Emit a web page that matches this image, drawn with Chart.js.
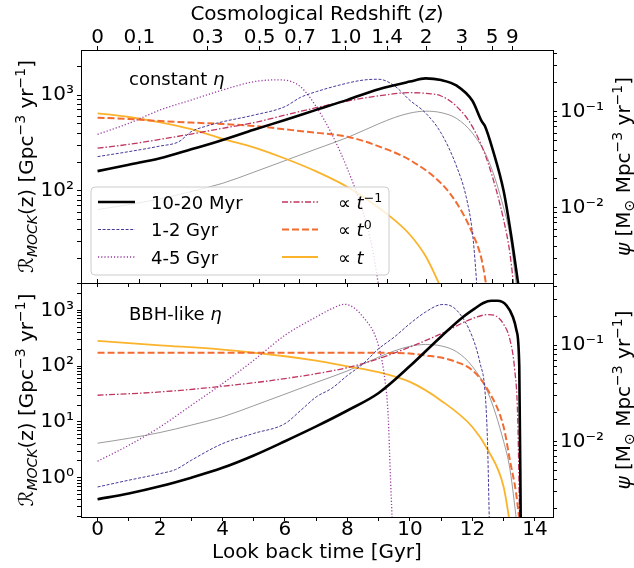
<!DOCTYPE html>
<html><head><meta charset="utf-8">
<script src="https://cdn.jsdelivr.net/npm/chart.js@4/dist/chart.umd.min.js"></script>
<style>
html,body{margin:0;padding:0;background:#fff;}
#wrap{position:relative;width:634px;height:568px;background:#fff;}
canvas{position:absolute;left:0;top:0;}
</style></head><body>
<div id="wrap"><canvas id="c1" width="634" height="568"></canvas><canvas id="c2" width="634" height="568"></canvas></div>
<script>
// ---------- DATA ----------
const xTickValues = [0,1,2,3,4,5,6,7,8,9,10,11,12,13,14];
const zLabels   = ['0','0.1','0.3','0.5','0.7','1.0','1.4','2','3','5','9'];
const zLookback = [0,1.34,3.53,5.19,6.48,7.94,9.27,10.52,11.66,12.63,13.28];

// star formation rate density psi (right axis), same in both panels
const tPsi = [0,1,2,3,4,5,6,7,8,9,9.5,10,10.5,11,11.5,12,12.5,13,13.2,13.45];
const vPsi = [0.0096,0.0108,0.0124,0.0148,0.018,0.0235,0.031,0.041,0.054,0.075,0.087,0.097,0.1015,0.098,0.085,0.060,0.032,0.0100,0.0052,0.0012];

// top panel: constant eta
const tBlackA = [0,1,2,3,4,5,6,7,8,9,10,10.5,11,11.5,12,12.3,12.4,12.65,13,13.25,13.5];
const vBlackA = [161,188,219,272,340,435,549,700,890,1150,1380,1490,1430,1250,870,530,476,270,100,33,9];
const tG12A = [0,1,2,2.6,3,3.5,4,5,6,6.5,7,8,8.5,9,9.5,10,10.5,11,11.5,11.8,12,12.1,12.2];
const vG12A = [228,257,294,326,415,476,526,617,757,946,1083,1330,1430,1460,1250,880,650,400,178,87,37,16,5];
const tG45A = [0,1,2,3,4,5,5.5,5.8,6.2,6.5,7,7.5,8,8.5,8.8,9.05];
const vG45A = [389,507,698,887,1127,1376,1433,1440,1380,1220,757,390,170,60,25,8];
const tM1A = [0,1,2,3,4,5,6,7,8,9,10,10.5,11,11.5,12,12.5,13,13.2,13.4];
const vM1A = [279,306,345,392,450,515,617,738,866,980,1057,1041,977,757,468,196,50,22.5,6];
const tT0A = [0,1,2,3,4,5,6,7,8,9,10,11,11.5,12,12.3,12.5];
const vT0A = [581,562,536,516,499,476,439,404,368,292,210,120,74.5,36.3,19,8];
const tT1A = [0,1,2,3,4,5,6,7,8,9,9.5,10,10.5,11.05];
const vT1A = [645,590,520,440,350,285,218,160,110,67,50,35,21,9];

// bottom panel: BBH-like eta
const tBlackB = [0,1,2,3,4,5,6,7,8,9,10,11,11.7,12.1,12.35,12.6,12.8,13.09,13.3,13.41,13.5,13.55];
const vBlackB = [0.41,0.52,0.70,1.0,1.5,2.5,4.5,8.3,16,33,100,340,760,1100,1350,1480,1480,1230,750,440,100,0.1];
const tG12B = [0,1,2,2.5,3,4,5,6,6.5,7,7.5,8,8.5,9,9.5,10,10.5,11,11.1,11.5,12,12.25,12.4,12.48,12.55];
const vG12B = [0.68,0.90,1.18,1.40,2.05,4.07,6.2,9.3,16,28,40,68,110,205,332,577,932,1265,1270,1000,332,110,37,5,0.1];
const tG45B = [0,1,2,3,4,5,6,7,7.5,7.9,8.5,9,9.2,9.3,9.38,9.45];
const vG45B = [1.97,3.8,8.1,19.8,48.5,127,357,760,1070,1280,760,225,56,14,0.9,0.1];
const tM1B = [0,2,4,6,8,9,10,11,12,12.5,12.7,13,13.2,13.35,13.45,13.52];
const vM1B = [30,34.4,43.5,59.7,94,136,220,380,710,837,814,560,300,90,12,0.1];
const tT0B = [0,2,4,6,8,9,10,10.5,11,11.5,12,12.5,13,13.2,13.4,13.55];
const vT0B = [174,174,174,174,174,173,168,155,142,118,84,37,8.1,2.05,0.52,0.1];
const tT1B = [0,2,4,6,7,8,9,10,11,12,12.5,13,13.25];
const vT1B = [282,236,198,150,125,99,78,52,24,8.1,3.1,0.68,0.1];

// ---------- STYLE / LAYOUT ----------
const FONT = '"DejaVu Sans", sans-serif';
const XMIN = -0.53, XMAX = 14.58;
const YA = [11, 2944], YB = [0.197, 3087], PSI = [0.00165, 0.44];
const STY = {
  b:{color:'#000000', w:2.6, dash:[]},
  g12:{color:'#4a3796', w:1.0, dash:[3,1.6]},
  g45:{color:'#9a3aa0', w:1.3, dash:[1.2,2]},
  m1:{color:'#c0365f', w:1.3, dash:[6,2,1.5,2]},
  t0:{color:'#f26b30', w:2.0, dash:[7,3]},
  t1:{color:'#fbb32c', w:1.8, dash:[]},
  psi:{color:'#808080', w:0.8, dash:[]}
};
const SUP = {'-':'\u207B','0':'\u2070','1':'\u00B9','2':'\u00B2','3':'\u00B3'};

function ds(label, ts, vs, sty, order, yId){
  return {label, data: ts.map((t,i)=>({x:t, y:vs[i]})), borderColor:sty.color, backgroundColor:sty.color,
    borderWidth:sty.w, borderDash:sty.dash, pointRadius:0, pointHoverRadius:0, fill:false,
    cubicInterpolationMode:'monotone', order, xAxisID:'x', yAxisID:yId||'y', borderCapStyle:'butt', borderJoinStyle:'round'};
}
function logTicks(min,max){
  const out=[];
  for(let n=Math.floor(Math.log10(min)); n<=Math.ceil(Math.log10(max)); n++){
    for(let k=1;k<10;k++){ const v=parseFloat((k*Math.pow(10,n)).toPrecision(6)); if(v>=min && v<=max) out.push({value:v, major:k===1}); }
  }
  return out;
}
function supLabel(v){ const e=Math.round(Math.log10(v)); return '10'+String(e).split('').map(c=>SUP[c]).join(''); }
const gridOpt = {drawOnChartArea:false, drawTicks:true, tickLength:4, tickColor:'#000', tickWidth:1};
const borderOpt = {display:true, color:'#000', width:1};
function yScale(range, pos){
  return {type:'logarithmic', position:pos, min:range[0], max:range[1],
    afterBuildTicks: s=>{ s.ticks = logTicks(range[0],range[1]); },
    afterFit: s=>{ s.width = 81; },
    ticks:{autoSkip:false, font:{family:FONT,size:20}, color:'#000', padding:3,
      callback:(v,i,t)=> (t[i] && t[i].major) ? supLabel(v) : ''},
    grid:gridOpt, border:borderOpt};
}
function xBottom(h, show){
  return {type:'linear', position:'bottom', min:XMIN, max:XMAX,
    afterBuildTicks: s=>{ s.ticks = xTickValues.map(v=>({value:v, major:v%2===0})); },
    afterFit: s=>{ s.height = h; },
    ticks:{autoSkip:false, maxRotation:0, font:{family:FONT,size:20,lineHeight:0.8}, color:'#000', padding:1,
      callback:(v,i,t)=> (show && t[i] && t[i].major) ? String(v) : ''},
    grid:gridOpt, border:borderOpt};
}
function xTop(h, show){
  return {type:'linear', position:'top', min:XMIN, max:XMAX,
    afterBuildTicks: s=>{ s.ticks = zLookback.map(v=>({value:v})); },
    afterFit: s=>{ s.height = h; },
    ticks:{autoSkip:false, maxRotation:0, font:{family:FONT,size:20,lineHeight:0.8}, color:'#000', padding:0,
      callback:(v,i)=> show ? zLabels[i] : ''},
    grid:gridOpt, border:borderOpt};
}

// rich text
function fstr(s,size){ return (s.i?'italic ':'')+(size*(s.sc||1)).toFixed(1)+'px '+FONT; }
function drawRich(ctx, segs, x, y, size, align, rot){
  ctx.save(); ctx.translate(x,y); if(rot) ctx.rotate(rot);
  let w=0; segs.forEach(s=>{ctx.font=fstr(s,size); w+=ctx.measureText(s.t).width;});
  let cx = align==='center' ? -w/2 : (align==='right' ? -w : 0);
  ctx.textBaseline='alphabetic'; ctx.textAlign='left'; ctx.fillStyle='#000';
  segs.forEach(s=>{ ctx.font=fstr(s,size); ctx.fillText(s.t, cx, (s.dy||0)*size); cx+=ctx.measureText(s.t).width; });
  ctx.restore();
}
const SUPDY = -0.38, SUBDY = 0.22;
const leftTitle = [{t:'\u211B'},{t:'MOCK',sc:0.7,dy:SUBDY,i:true},{t:'(z) [Gpc'},{t:'\u22123',sc:0.7,dy:SUPDY},{t:' yr'},{t:'\u22121',sc:0.7,dy:SUPDY},{t:']'}];
const rightTitle = [{t:'\u03C8',i:true},{t:' [M'},{t:'\u2299',sc:0.7,dy:SUBDY},{t:' Mpc'},{t:'\u22123',sc:0.7,dy:SUPDY},{t:' yr'},{t:'\u22121',sc:0.7,dy:SUPDY},{t:']'}];

const legendItems = [
  {key:'b', segs:[{t:'10-20 Myr'}]},
  {key:'g12', segs:[{t:'1-2 Gyr'}]},
  {key:'g45', segs:[{t:'4-5 Gyr'}]},
  {key:'m1', segs:[{t:'\u221D '},{t:'t',i:true},{t:'\u22121',sc:0.7,dy:SUPDY}]},
  {key:'t0', segs:[{t:'\u221D '},{t:'t',i:true},{t:'0',sc:0.7,dy:SUPDY}]},
  {key:'t1', segs:[{t:'\u221D '},{t:'t',i:true}]}
];

function decoPlugin(panel){
  return {id:'deco'+panel,
    afterDatasetsDraw(chart){
      const ctx=chart.ctx;
      if(panel===0){
        drawRich(ctx,[{t:'constant '},{t:'\u03B7',i:true}],129,85,18,'left');
        ctx.save();
        const bx=91, by=187, bw=298, bh=88, r=4;
        ctx.beginPath(); ctx.roundRect(bx,by,bw,bh,r);
        ctx.fillStyle='rgba(255,255,255,0.8)'; ctx.fill();
        ctx.strokeStyle='#cccccc'; ctx.lineWidth=1; ctx.stroke();
        const rows=[202,229.5,257], cols=[{h0:98,h1:135,tx:151},{h0:282,h1:318,tx:338}];
        legendItems.forEach((it,k)=>{
          const c=cols[Math.floor(k/3)], y=rows[k%3], s=STY[it.key];
          ctx.save(); ctx.beginPath(); ctx.strokeStyle=s.color; ctx.lineWidth=s.w; ctx.setLineDash(s.dash); ctx.lineCap='butt';
          ctx.moveTo(c.h0,y); ctx.lineTo(c.h1,y); ctx.stroke(); ctx.restore();
          drawRich(ctx,it.segs,c.tx,y+6.5,18,'left');
        });
        ctx.restore();
      } else {
        drawRich(ctx,[{t:'BBH-like '},{t:'\u03B7',i:true}],129,320,18,'left');
      }
    },
    afterDraw(chart){
      const ctx=chart.ctx, a=chart.chartArea, cy=(a.top+a.bottom)/2;
      drawRich(ctx,leftTitle,33,cy,20,'center',-Math.PI/2);
      drawRich(ctx,rightTitle,630,cy,20,'center',-Math.PI/2);
      if(panel===0){
        drawRich(ctx,[{t:'Cosmological Redshift ('},{t:'z',i:true},{t:')'}],317,20,20,'center');
      } else {
        drawRich(ctx,[{t:'Look back time [Gyr]'}],317,558,20,'center');
      }
    }
  };
}

function makeChart(id, panel, sets, yRange, xb, xt){
  return new Chart(document.getElementById(id), {
    type:'line',
    data:{datasets:sets},
    options:{responsive:false, animation:false, devicePixelRatio:1,
      layout:{padding:0},
      plugins:{legend:{display:false}, tooltip:{enabled:false}},
      scales:{x:xb, xTop:xt, y:yScale(yRange,'left'), yR:yScale(PSI,'right')}
    },
    plugins:[decoPlugin(panel)]
  });
}

const setsA = [
  ds('10-20 Myr', tBlackA, vBlackA, STY.b, 0),
  ds('1-2 Gyr', tG12A, vG12A, STY.g12, 1),
  ds('4-5 Gyr', tG45A, vG45A, STY.g45, 2),
  ds('t^-1', tM1A, vM1A, STY.m1, 3),
  ds('t^0', tT0A, vT0A, STY.t0, 4),
  ds('t', tT1A, vT1A, STY.t1, 5),
  ds('psi', tPsi, vPsi, STY.psi, 6, 'yR')
];
const setsB = [
  ds('10-20 Myr', tBlackB, vBlackB, STY.b, 0),
  ds('1-2 Gyr', tG12B, vG12B, STY.g12, 1),
  ds('4-5 Gyr', tG45B, vG45B, STY.g45, 2),
  ds('t^-1', tM1B, vM1B, STY.m1, 3),
  ds('t^0', tT0B, vT0B, STY.t0, 4),
  ds('t', tT1B, vT1B, STY.t1, 5),
  ds('psi', tPsi, vPsi, STY.psi, 6, 'yR')
];
makeChart('c1', 0, setsA, YA, xBottom(285,false), xTop(50,true));
makeChart('c2', 1, setsB, YB, xBottom(51,true), xTop(283,false));
</script>
</body></html>
